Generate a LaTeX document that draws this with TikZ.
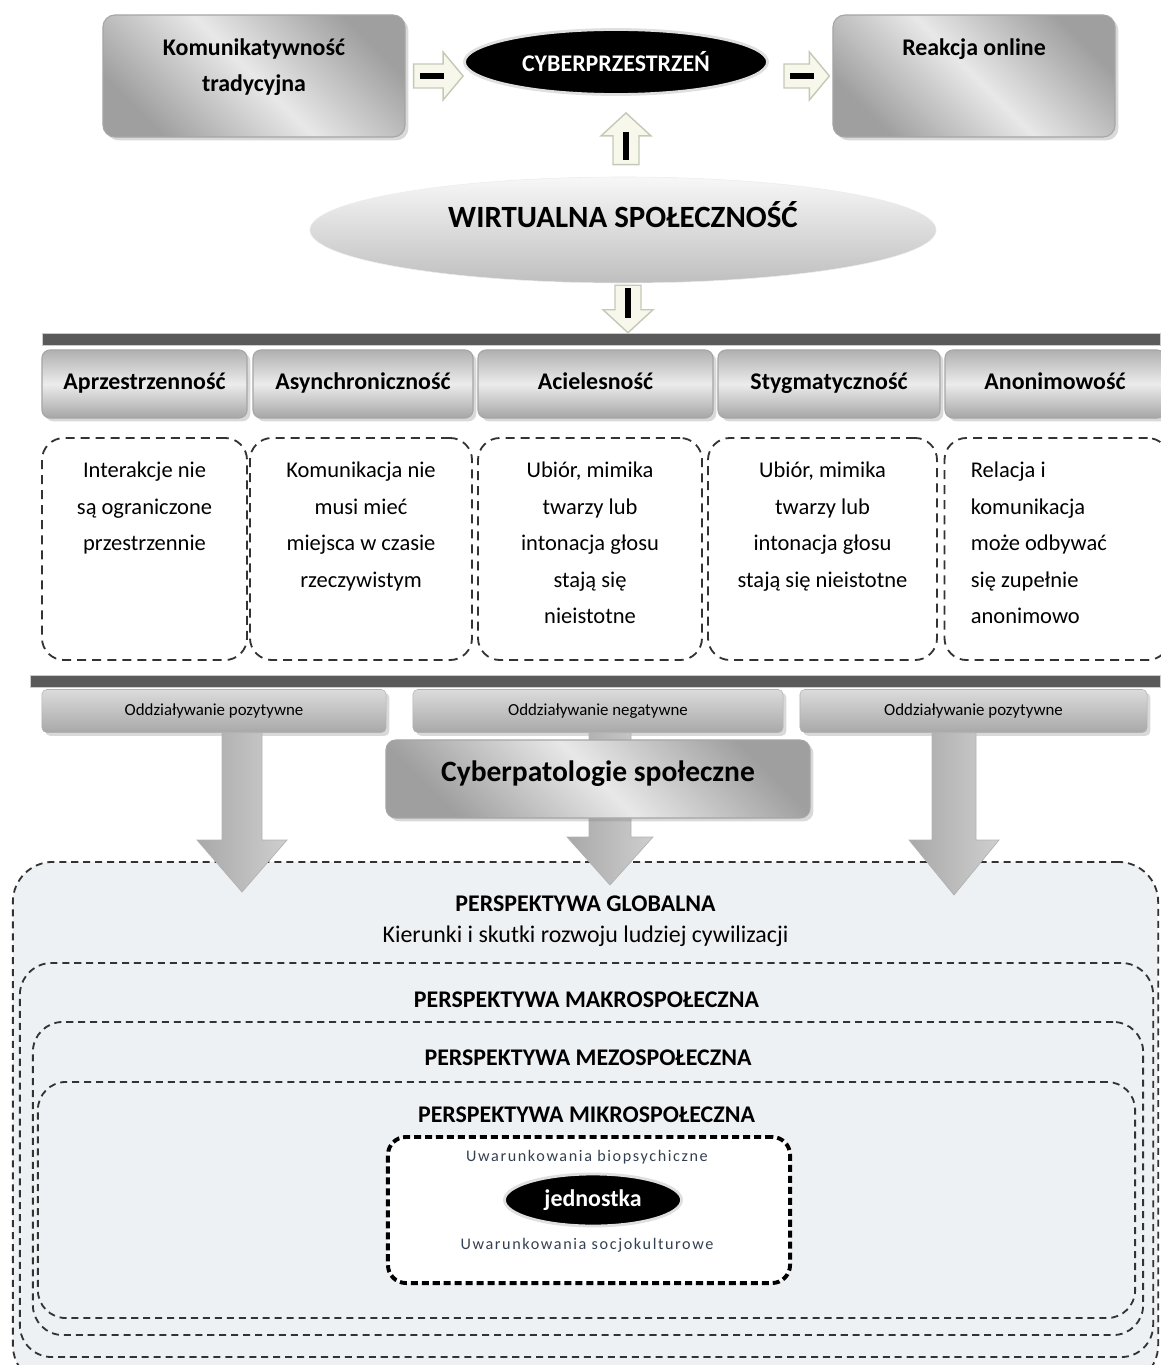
\documentclass[tikz,border=0pt]{standalone}
\usepackage{fontspec}
\setmainfont{Carlito}
\usetikzlibrary{shapes.geometric,calc,shadows}

\definecolor{ciemny}{RGB}{90,90,90}
\definecolor{tlo}{RGB}{238,241,243}
\definecolor{krem}{RGB}{247,247,236}
\definecolor{obrys}{RGB}{196,201,182}
\definecolor{napis}{RGB}{52,64,82}

\begin{document}
\begin{tikzpicture}[x=0.025cm, y=-0.025cm,
    gora/.style={draw=gray!70, line width=0.8pt, rounded corners=0.3cm, top color=gray!75, bottom color=gray!75, middle color=gray!18, shading angle=-45, drop shadow={opacity=0.3}},
    gornynapis/.style={anchor=north, yshift=-0.6cm, inner sep=0pt, align=center, font=\fontsize{17}{25.6}\selectfont\bfseries},
    cecha/.style={draw=gray!70, line width=0.8pt, rounded corners=0.2cm, top color=gray!62, bottom color=gray!70, middle color=gray!15, minimum height=1.7cm, text height=12.5pt, text depth=4pt, font=\fontsize{17}{20}\selectfont\bfseries, drop shadow={opacity=0.3}},
    opis/.style={draw=black!80, line width=1.3pt, dash pattern=on 6.4pt off 4.3pt, rounded corners=0.55cm, minimum height=5.55cm},
    opistekst/.style={anchor=north, yshift=-0.625cm, inner sep=0pt, align=center, font=\fontsize{16}{25.9}\selectfont},
    belka/.style={fill=ciemny, draw=gray!40, inner sep=0pt, minimum height=0.3cm},
    wplyw/.style={draw=gray!60, rounded corners=0.12cm, top color=gray!28, bottom color=gray!68, minimum height=1.075cm, font=\fontsize{12}{14}\selectfont, drop shadow={opacity=0.3}},
    warstwa/.style={draw=black!80, line width=1.3pt, dash pattern=on 5pt off 3.5pt, fill=tlo},
    warstwanapis/.style={anchor=north, inner sep=0pt, align=center, font=\fontsize{17}{22}\selectfont},
    lekka/.style={fill=krem, draw=obrys, line width=1pt},
    czarny/.style={draw=black, line width=0.15cm},
    szara/.style={draw=gray!60, line width=0.5pt, left color=gray!68, right color=gray!38},
    uwar/.style={text=napis, font=\fontsize{11.5}{13}\selectfont\addfontfeature{LetterSpace=10}}
]
    \useasboundingbox (0,0) rectangle (1160,1365);

    % Top row
    \node[gora, minimum width=7.55cm, minimum height=3.05cm, label={[gornynapis]north:{Komunikatywność\\tradycyjna}}] (komtrad) at (254,76) {};
    \node[ellipse, fill=black, draw=gray!25, line width=2pt, minimum width=7.575cm, minimum height=1.625cm, text=white, font=\fontsize{17}{20}\selectfont\bfseries] (cyber) at (616,62) {CYBERPRZESTRZEŃ};
    \node[gora, minimum width=7.05cm, minimum height=3.05cm, label={[gornynapis]north:Reakcja online}] (reakcja) at (974,76) {};

    % Virtual community
    \node[ellipse, top color=gray!6, bottom color=gray!50, draw=gray!15, minimum width=15.65cm, minimum height=2.65cm, label={[font=\fontsize{22}{26}\selectfont\bfseries, yshift=0.375cm]center:WIRTUALNA SPOŁECZNOŚĆ}] (wirt) at (623,230) {};

    % Upper bar
    \node[belka, minimum width=27.95cm] (bar1) at (601,339) {};

    % Light arrows
    \coordinate (s1) at ($(komtrad.east)+(8,0)$);
    \coordinate (k1) at (s1 -| cyber.west);
    \path[lekka] ($(s1)+(0,-12)$) -- ($(k1)+(-20,-12)$) -- ($(k1)+(-20,-24)$) -- (k1) -- ($(k1)+(-20,24)$) -- ($(k1)+(-20,12)$) -- ($(s1)+(0,12)$) -- cycle;
    \draw[czarny] ($(s1)+(6,0)$) -- ($(s1)+(30,0)$);

    \coordinate (s2) at ($(cyber.east |- reakcja.west)+(15,0)$);
    \coordinate (k2) at ($(reakcja.west)+(-3,0)$);
    \path[lekka] ($(s2)+(0,-12)$) -- ($(k2)+(-20,-12)$) -- ($(k2)+(-20,-24)$) -- (k2) -- ($(k2)+(-20,24)$) -- ($(k2)+(-20,12)$) -- ($(s2)+(0,12)$) -- cycle;
    \draw[czarny] ($(s2)+(6,0)$) -- ($(s2)+(30,0)$);

    \coordinate (s3) at ($(wirt.north)+(3,-12)$);
    \coordinate (k3) at ($(s3 |- cyber.south)+(0,17)$);
    \path[lekka] ($(s3)+(-13,0)$) -- ($(k3)+(-13,23)$) -- ($(k3)+(-25,23)$) -- (k3) -- ($(k3)+(25,23)$) -- ($(k3)+(13,23)$) -- ($(s3)+(13,0)$) -- cycle;
    \draw[czarny] ($(s3)+(0,-5)$) -- ($(s3)+(0,-33)$);

    \coordinate (s4) at ($(wirt.south)+(5,2)$);
    \coordinate (k4) at (s4 |- bar1.north);
    \path[lekka] ($(s4)+(-13,0)$) -- ($(k4)+(-13,-23)$) -- ($(k4)+(-25,-23)$) -- (k4) -- ($(k4)+(25,-23)$) -- ($(k4)+(13,-23)$) -- ($(s4)+(13,0)$) -- cycle;
    \draw[czarny] ($(s4)+(0,3)$) -- ($(s4)+(0,33)$);

    % Features
    \node[cecha, minimum width=5.125cm] (apr) at (144.5,384) {Aprzestrzenność};
    \node[cecha, minimum width=5.5cm] (asy) at (363,384) {Asynchroniczność};
    \node[cecha, minimum width=5.875cm] (aci) at (595.5,384) {Acielesność};
    \node[cecha, minimum width=5.55cm] (sty) at (829,384) {Stygmatyczność};
    \node[cecha, minimum width=5.5cm] (ano) at (1055,384) {Anonimowość};

    % Descriptions
    \node[opis, minimum width=5.125cm, label={[opistekst]north:{Interakcje nie\\są ograniczone\\przestrzennie}}] (op1) at (144.5,549) {};
    \node[opis, minimum width=5.55cm, label={[opistekst]north:{Komunikacja nie\\musi mieć\\miejsca w czasie\\rzeczywistym}}] (op2) at (361,549) {};
    \node[opis, minimum width=5.6cm, label={[opistekst]north:{Ubiór, mimika\\twarzy lub\\intonacja głosu\\stają się\\nieistotne}}] (op3) at (590,549) {};
    \node[opis, minimum width=5.725cm, label={[opistekst]north:{Ubiór, mimika\\twarzy lub\\intonacja głosu\\stają się nieistotne}}] (op4) at (822.5,549) {};
    \node[opis, minimum width=5.625cm, label={[opistekst, anchor=north west, align=left, xshift=0.675cm]north west:{Relacja i\\komunikacja\\może odbywać\\się zupełnie\\anonimowo}}] (op5) at (1057,549) {};

    % Lower bar and influences
    \node[belka, minimum width=28.25cm] (bar2) at (595,681) {};
    \node[wplyw, minimum width=8.6cm] (poz1) at (214,711) {Oddziaływanie pozytywne};
    \node[wplyw, minimum width=9.25cm] (neg) at (598,711) {Oddziaływanie negatywne};
    \node[wplyw, minimum width=8.675cm] (poz2) at (973.5,711) {Oddziaływanie pozytywne};

    % Perspectives
    \node[warstwa, rounded corners=1cm, minimum width=28.625cm, minimum height=13.075cm, label={[warstwanapis, yshift=-0.875cm]north:{\bfseries PERSPEKTYWA GLOBALNA\\Kierunki i skutki rozwoju ludziej cywilizacji}}] (glob) at (585.5,1123.5) {};
    \node[warstwa, rounded corners=0.8cm, minimum width=28.325cm, minimum height=9.85cm, label={[warstwanapis, font=\fontsize{17}{22}\selectfont\bfseries, yshift=-0.725cm]north:PERSPEKTYWA MAKROSPOŁECZNA}] (makro) at (586.5,1160) {};
    \node[warstwa, rounded corners=0.75cm, minimum width=27.75cm, minimum height=7.825cm, label={[warstwanapis, font=\fontsize{17}{22}\selectfont\bfseries, yshift=-0.7cm]north:PERSPEKTYWA MEZOSPOŁECZNA}] (mezo) at (588,1178.5) {};
    \node[warstwa, rounded corners=0.7cm, minimum width=27.425cm, minimum height=5.9cm, label={[warstwanapis, font=\fontsize{17}{22}\selectfont\bfseries, yshift=-0.625cm]north:PERSPEKTYWA MIKROSPOŁECZNA}] (mikro) at (586.5,1200) {};

    % Individual
    \node[draw=black, line width=2.8pt, dash pattern=on 5pt off 2.8pt, fill=white, rounded corners=0.45cm, minimum width=10.05cm, minimum height=3.65cm] (rama) at (589,1210) {};
    \node[uwar] (bio) at (587,1157) {Uwarunkowania biopsychiczne};
    \node[ellipse, fill=black, draw=gray!25, line width=2pt, minimum width=4.425cm, minimum height=1.3cm, text=white, font=\fontsize{17}{20}\selectfont\bfseries] (jedn) at (593,1200) {jednostka};
    \node[uwar] (socjo) at (587,1245) {Uwarunkowania socjokulturowe};

    % Big arrows
    \coordinate (g1) at (242,892);
    \coordinate (g2) at (610,885);
    \coordinate (g3) at (954,895);
    \coordinate (p1) at (poz1.south -| g1);
    \coordinate (p2) at (neg.south -| g2);
    \coordinate (p3) at (poz2.south -| g3);
    \path[szara] ($(p1)+(-20,0)$) -- ($(g1)+(-20,-52)$) -- ($(g1)+(-45,-52)$) -- (g1) -- ($(g1)+(45,-52)$) -- ($(g1)+(20,-52)$) -- ($(p1)+(20,0)$) -- cycle;
    \path[szara] ($(p2)+(-21,0)$) -- ($(g2)+(-21,-48)$) -- ($(g2)+(-43,-48)$) -- (g2) -- ($(g2)+(43,-48)$) -- ($(g2)+(21,-48)$) -- ($(p2)+(21,0)$) -- cycle;
    \path[szara] ($(p3)+(-22,0)$) -- ($(g3)+(-22,-55)$) -- ($(g3)+(-45,-55)$) -- (g3) -- ($(g3)+(45,-55)$) -- ($(g3)+(22,-55)$) -- ($(p3)+(22,0)$) -- cycle;

    % Cyberpathologies
    \node[gora, rounded corners=0.25cm, minimum width=10.6cm, minimum height=1.95cm, text depth=0.38cm, font=\fontsize{21}{24}\selectfont\bfseries] (pat) at (598,779) {Cyberpatologie społeczne};

\end{tikzpicture}
\end{document}
